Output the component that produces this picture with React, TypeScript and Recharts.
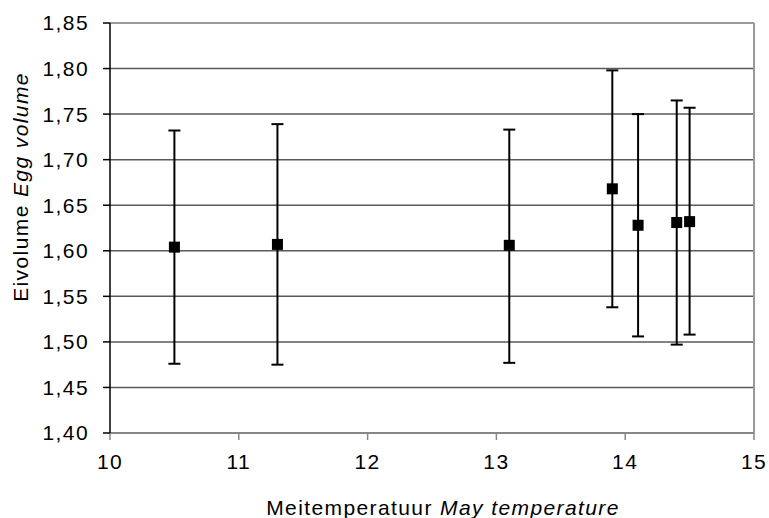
import { ScatterChart, Scatter, XAxis, YAxis, CartesianGrid, ErrorBar, ReferenceLine, Label } from "recharts";

const temperatures = [10.5, 11.3, 13.1, 13.9, 14.1, 14.4, 14.5];
const eggVolumes = [1.604, 1.607, 1.606, 1.668, 1.628, 1.631, 1.632];
const upperEnds = [1.732, 1.739, 1.733, 1.798, 1.75, 1.765, 1.757];
const lowerEnds = [1.476, 1.475, 1.477, 1.538, 1.506, 1.497, 1.508];

const xTicks = [10, 11, 12, 13, 14, 15];
const yTicks = [1.4, 1.45, 1.5, 1.55, 1.6, 1.65, 1.7, 1.75, 1.8, 1.85];

const FONT = "Arial, 'Liberation Sans', sans-serif";
const SPACING = 1.4;

const data = temperatures.map((t, i) => ({
  x: t,
  y: eggVolumes[i],
  err: [eggVolumes[i] - lowerEnds[i], upperEnds[i] - eggVolumes[i]],
}));

const SquareDot = (props: any) => {
  const { cx, cy } = props;
  return <rect x={cx - 5.5} y={cy - 5.5} width={11} height={11} fill="#000" />;
};

const YTitle = (props: any) => {
  const vb = props.viewBox;
  const cx = vb.x + 28;
  const cy = vb.y + vb.height / 2 - 41;
  return (
    <text
      x={cx}
      y={cy}
      transform={`rotate(-90, ${cx}, ${cy})`}
      textAnchor="middle"
      fontSize={21}
      letterSpacing={SPACING}
      fontFamily={FONT}
      fill="#000"
    >
      Eivolume <tspan fontStyle="italic">Egg volume</tspan>
    </text>
  );
};

const XTitle = (props: any) => {
  const vb = props.viewBox;
  const cx = vb.x + vb.width / 2 + 11;
  return (
    <text x={cx} y={515} textAnchor="middle" fontSize={21} letterSpacing={SPACING} fontFamily={FONT} fill="#000">
      Meitemperatuur <tspan fontStyle="italic">May temperature</tspan>
    </text>
  );
};

const tickStyle = { fill: "#000", fontSize: 21, fontFamily: FONT, letterSpacing: SPACING };

export default function App() {
  return (
    <div style={{ position: "absolute", left: 0, top: 0, background: "#fff" }}>
      <ScatterChart width={769} height={518} margin={{ top: 23, right: 15, bottom: 0, left: 0 }}>
        <CartesianGrid vertical={false} stroke="#5a5a5a" strokeWidth={1.5} />
        <XAxis
          type="number"
          dataKey="x"
          domain={[10, 15]}
          ticks={xTicks}
          height={85}
          tickSize={7}
          tickMargin={14}
          stroke="#888"
          strokeWidth={1.5}
          tick={tickStyle}
        >
          <Label content={XTitle} />
        </XAxis>
        <YAxis
          type="number"
          dataKey="y"
          domain={[1.4, 1.85]}
          ticks={yTicks}
          width={110}
          tickSize={7}
          tickMargin={14}
          stroke="#000"
          strokeWidth={1.5}
          tickFormatter={(v: number) => v.toFixed(2).replace(".", ",")}
          tick={tickStyle}
        >
          <Label content={YTitle} />
        </YAxis>
        <ReferenceLine x={15} stroke="#999" strokeWidth={2} />
        <ReferenceLine y={1.85} stroke="#999" strokeWidth={2} />
        <Scatter data={data} shape={SquareDot} isAnimationActive={false}>
          <ErrorBar dataKey="err" direction="y" width={6} stroke="#000" strokeWidth={2} />
        </Scatter>
      </ScatterChart>
    </div>
  );
}
